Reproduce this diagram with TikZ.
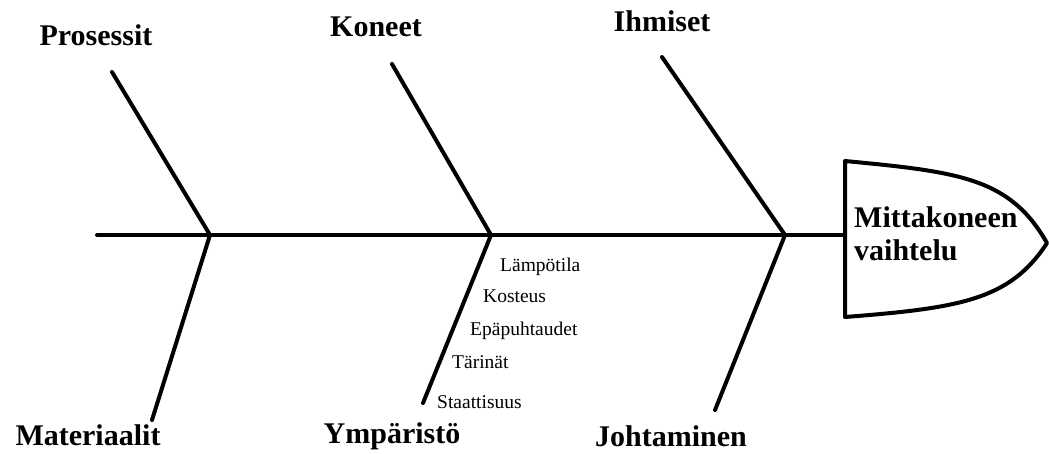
\documentclass[tikz,border=0pt]{standalone}
\usepackage{fontspec}
\setmainfont{Liberation Serif}
\begin{document}
\begin{tikzpicture}[x=1pt,y=-1pt,
  bone/.style={line width=4pt,line cap=round},
  cat/.style={font=\fontsize{30}{32}\selectfont\bfseries,inner sep=0pt},
  cause/.style={font=\fontsize{19.5}{21}\selectfont,inner sep=0pt,anchor=west},
  headtext/.style={font=\fontsize{30}{33}\selectfont\bfseries,align=left,inner sep=0pt,anchor=west}]
\useasboundingbox (0,0) rectangle (1049,453);
% spine and joints
\coordinate (tail) at (97,235);
\coordinate (j1) at (210,235);
\coordinate (j2) at (491,235);
\coordinate (j3) at (785,235);
\coordinate (hd) at (845,235);
% bone ends
\coordinate (t1) at (112,72);
\coordinate (b1) at (152,420);
\coordinate (t2) at (392,64);
\coordinate (b2) at (423,403);
\coordinate (t3) at (662,57);
\coordinate (b3) at (715,410);
\draw[bone] (tail) -- (hd);
\draw[bone] (t1) -- (j1) -- (b1);
\draw[bone] (t2) -- (j2) -- (b2);
\draw[bone] (t3) -- (j3) -- (b3);
% head
\coordinate (h1) at (845,161);
\coordinate (h2) at (845,317);
\coordinate (tip) at (1047,243);
\draw[bone,line join=round] (h1) .. controls (960,172) and (1010,178) .. (tip)
  .. controls (1010,300) and (960,308) .. (h2) -- cycle;
\node[headtext] (head) at (854,234) {Mittakoneen\\vaihtelu};
% category labels
\node[cat] (c1) at (96,35) {Prosessit};
\node[cat] (c2) at (376,27) {Koneet};
\node[cat] (c3) at (662,21) {Ihmiset};
\node[cat] (c4) at (88,435) {Materiaalit};
\node[cat] (c5) at (392,436) {Ympäristö};
\node[cat] (c6) at (671,436) {Johtaminen};
% causes
\node[cause] (e1) at (500,267) {Lämpötila};
\node[cause] (e2) at (483,296) {Kosteus};
\node[cause] (e3) at (470,331) {Epäpuhtaudet};
\node[cause] (e4) at (452,362) {Tärinät};
\node[cause] (e5) at (437,402) {Staattisuus};
\end{tikzpicture}
\end{document}
